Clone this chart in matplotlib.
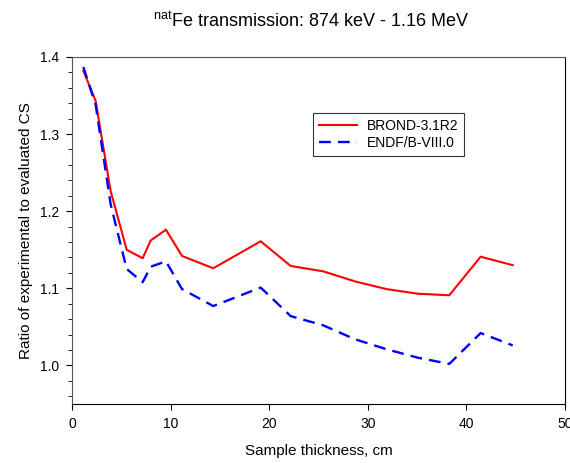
import matplotlib
matplotlib.use('Agg')
import matplotlib.pyplot as plt
from matplotlib.ticker import MultipleLocator

plt.rcParams['font.family'] = ['Liberation Sans', 'DejaVu Sans']
plt.rcParams['mathtext.fontset'] = 'custom'
plt.rcParams['mathtext.rm'] = 'Liberation Sans'

thickness = [1.15, 2.4, 3.92, 5.55, 7.17, 7.98, 9.53, 11.16, 14.33, 19.14,
             22.18, 25.49, 28.7, 31.9, 35.1, 38.27, 41.45, 44.7]
brond = [1.382, 1.343, 1.226, 1.150, 1.139, 1.162, 1.176, 1.142, 1.126, 1.161,
         1.129, 1.122, 1.109, 1.099, 1.093, 1.091, 1.141, 1.130]
endf = [1.387, 1.338, 1.209, 1.125, 1.108, 1.128, 1.135, 1.099, 1.077, 1.101,
        1.064, 1.052, 1.034, 1.021, 1.010, 1.002, 1.042, 1.026]

fig = plt.figure(figsize=(5.7, 4.63), dpi=100)
ax = fig.add_axes([0.1263, 0.1274, 0.8648, 0.7496])

ax.plot(thickness, brond, c='#ff0000', lw=1.5, label='BROND-3.1R2')
ax.plot(thickness, endf, c='#0000ff', lw=1.7, ls=(0, (5, 3)), label='ENDF/B-VIII.0')

ax.set_xlim(0, 50)
ax.set_ylim(0.95, 1.4)
ax.xaxis.set_major_locator(MultipleLocator(10))
ax.yaxis.set_major_locator(MultipleLocator(0.1))
ax.yaxis.set_minor_locator(MultipleLocator(0.02))
ax.tick_params(axis='both', which='major', labelsize=10, length=4, direction='out')
ax.tick_params(axis='x', pad=5)
ax.tick_params(axis='y', pad=5)
ax.tick_params(axis='y', which='minor', length=3, direction='out')
for s in ['left', 'top']:
    ax.spines[s].set_color('#555555')

ax.set_xlabel("Sample thickness, cm", fontsize=11, labelpad=10)
ax.set_ylabel("Ratio of experimental to evaluated CS", fontsize=11, labelpad=5)

leg = ax.legend(loc='upper left', bbox_to_anchor=(0.489, 0.839), borderaxespad=0,
                fontsize=10, frameon=True, fancybox=False, edgecolor='black',
                borderpad=0.45, handlelength=2.7, handletextpad=0.7, labelspacing=0.2)
leg.get_frame().set_linewidth(0.8)

fig.text(0.545, 0.955, r'$^{\mathrm{nat}}$Fe transmission: 874 keV - 1.16 MeV',
         ha='center', va='center', fontsize=13)

fig.savefig('out.png', dpi=100)
